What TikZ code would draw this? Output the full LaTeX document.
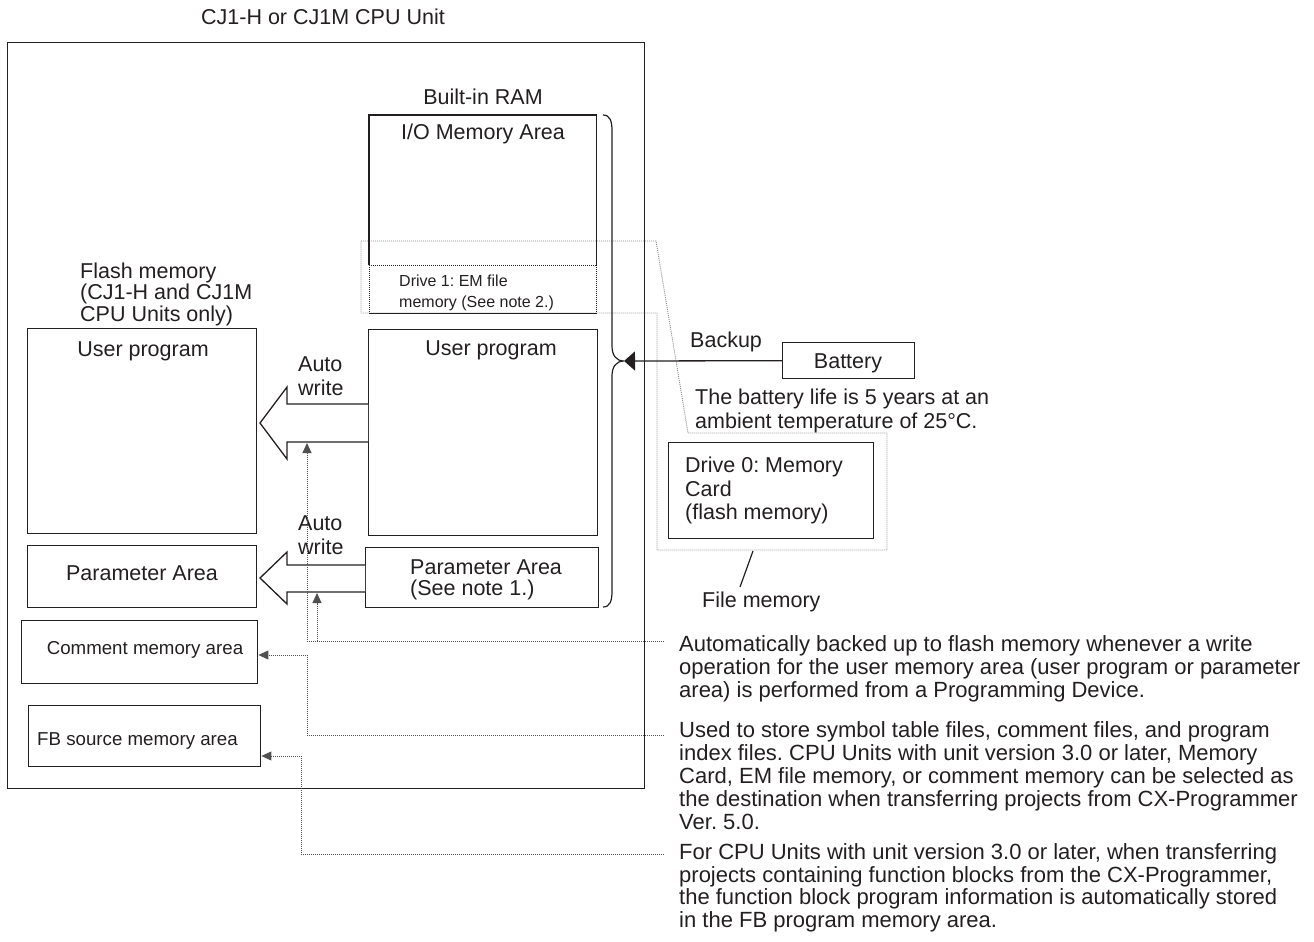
\documentclass[tikz,border=0pt]{standalone}
\usepackage{fontspec}
\setmainfont{Liberation Sans}
\usetikzlibrary{arrows.meta}
\definecolor{ink}{HTML}{231F20}
\definecolor{dotc}{HTML}{505050}
\definecolor{lgray}{HTML}{8C8C8C}
\begin{document}
\frenchspacing
\begin{tikzpicture}[x=1pt,y=-1pt,
  box/.style={draw=ink, line width=1.4pt, inner sep=0pt, anchor=north west},
  area/.style={inner sep=0pt, anchor=north west},
  big/.style={font=\fontsize{21.5}{23}\selectfont, text=ink, inner sep=0pt},
  note/.style={font=\fontsize{22}{23}\selectfont, text=ink, inner sep=0pt, anchor=base west, align=left},
  mid/.style={font=\fontsize{18.7}{20}\selectfont, text=ink, inner sep=0pt},
  small/.style={font=\fontsize{16}{21}\selectfont, text=ink, inner sep=0pt},
  solidl/.style={draw=ink, line width=1.4pt},
  dotk/.style={draw=ink, line width=1pt, dash pattern=on 1pt off 1pt},
  dots/.style={draw=dotc, line width=1pt, dash pattern=on 1pt off 1pt},
  fmem/.style={draw=lgray, line width=0.9pt, dash pattern=on 1pt off 1pt},
  tip/.style={-{Triangle[length=10pt,width=9pt]}},
  blockarrow/.style={draw=ink, line width=1.3pt, fill=white, line join=miter},
]
\useasboundingbox (0,0) rectangle (1314,942);

% titles
\node[big, anchor=base] (title) at (323,25) {CJ1-H or CJ1M CPU Unit};
\node[box, minimum width=637pt, minimum height=746pt] (cpu) at (7,42) {};
\node[big, anchor=base] (ramlbl) at (483,104) {Built-in RAM};

% file memory outline (gray dotted)
\draw[fmem] (361,241) -- (656,241) -- (688,433) -- (887,433) -- (887,550) -- (657,550) -- (657,313) -- (361,313) -- cycle;

% built-in RAM boxes
\node[area, minimum width=227pt, minimum height=150pt] (io) at (369,115) {};
\draw[solidl] (io.south west) -- (io.north west) -- (io.north east) -- (io.south east);
\node[big, anchor=base] (iolbl) at (483,139) {I/O Memory Area};
\node[area, minimum width=227pt, minimum height=48pt] (em) at (369,265) {};
\draw[dotk] (em.north west) -- (em.north east);
\draw[dotk] (em.north west) -- (em.south west);
\draw[dotk] (em.north east) -- (em.south east);
\draw[solidl] (em.south west) -- (em.south east);
\node[small, anchor=base west, align=left] (emlbl) at (399,307) {Drive 1: EM file\\memory (See note 2.)};

\node[box, minimum width=229pt, minimum height=206pt] (ramup) at (368,329) {};
\node[big, anchor=base] (ramuplbl) at (491,355) {User program};
\node[box, minimum width=233pt, minimum height=60pt] (rampa) at (365,547) {};
\node[big, anchor=base west, align=left, font=\fontsize{21.5}{21}\selectfont] (rampalbl) at (410,595) {Parameter Area\\(See note 1.)};

% flash memory
\node[big, anchor=base west, align=left, font=\fontsize{21.5}{21.5}\selectfont] (flashlbl) at (80,321) {Flash memory\\(CJ1-H and CJ1M\\CPU Units only)};
\node[box, minimum width=229pt, minimum height=205pt] (flup) at (27,328) {};
\node[big, anchor=base] (fluplbl) at (143,356) {User program};
\node[box, minimum width=229pt, minimum height=62pt] (flpa) at (27,545) {};
\node[big, anchor=base] (flpalbl) at (142,580) {Parameter Area};
\node[box, minimum width=236pt, minimum height=63pt] (cmt) at (21,620) {};
\node[mid, anchor=base] (cmtlbl) at (145,654) {Comment memory area};
\node[box, minimum width=232pt, minimum height=61pt] (fb) at (28,705) {};
\node[mid, anchor=base west] (fblbl) at (37,745) {FB source memory area};

% block arrows (auto write)
\draw[blockarrow] (ramup.west |- 0,404) -- (287,404) -- (287,387) -- (260,423) -- (287,459) -- (287,442) -- (ramup.west |- 0,442);
\draw[blockarrow] (rampa.west |- 0,565) -- (287,565) -- (287,552) -- (260,578) -- (287,604) -- (287,592) -- (rampa.west |- 0,592);
\node[big, anchor=base west, align=left, font=\fontsize{21.5}{24}\selectfont] (aw1) at (298,395) {Auto\\write};
\node[big, anchor=base west, align=left, font=\fontsize{21.5}{24}\selectfont] (aw2) at (298,554) {Auto\\write};

% brace
\coordinate (bracetip) at (624,361);
\draw[draw=ink, line width=1.2pt] (603,115) .. controls (610,115) and (612,121) .. (612,131) -- (612,346) .. controls (612,355) and (616,361) .. (bracetip) .. controls (616,361) and (612,367) .. (612,376) -- (612,591) .. controls (612,601) and (610,607) .. (603,607);

% battery
\node[box, minimum width=132pt, minimum height=36pt] (bat) at (782,342) {};
\node[big, anchor=base] (batlbl) at (848,368) {Battery};
\draw[draw=ink, line width=1.3pt, -{Triangle[length=11pt,width=19pt]}] (bat.west) -- (bracetip);
\node[big, anchor=base west] (backup) at (690,347) {Backup};
\node[big, anchor=base west, align=left, font=\fontsize{21.5}{24}\selectfont] (life) at (695,428) {The battery life is 5 years at an\\ambient temperature of 25°C.};

% memory card
\node[box, minimum width=205pt, minimum height=96pt] (card) at (668,442) {};
\node[big, anchor=base west, align=left, font=\fontsize{21.5}{23.3}\selectfont] (cardlbl) at (685,519.5) {Drive 0: Memory\\Card\\(flash memory)};
\node[big, anchor=base west] (fmlbl) at (702,607) {File memory};
\coordinate (slashtop) at (753,551);
\coordinate (slashbot) at (740,587);
\draw[draw=ink, line width=1.2pt] (slashtop) -- (slashbot);

% notes
\node[note] (note1) at (679,697) {Automatically backed up to flash memory whenever a write\\operation for the user memory area (user program or parameter\\area) is performed from a Programming Device.};
\node[note] (note2) at (679,829) {Used to store symbol table files, comment files, and program\\index files. CPU Units with unit version 3.0 or later, Memory\\Card, EM file memory, or comment memory can be selected as\\the destination when transferring projects from CX-Programmer\\Ver. 5.0.};
\node[note, font=\fontsize{22}{22.5}\selectfont] (note3) at (679,927) {For CPU Units with unit version 3.0 or later, when transferring\\projects containing function blocks from the CX-Programmer,\\the function block program information is automatically stored\\in the FB program memory area.};

% dotted leader lines
\coordinate (n1) at (664,641);
\coordinate (n2) at (664,735);
\coordinate (n3) at (664,854);
\draw[dots, tip] (n1) -- (307,641) -- (307,443);
\draw[dots, tip] (317,641) -- (317,593);
\draw[dots, tip] (n2) -- (307,735) -- (307,655) -- (cmt.east |- 0,655);
\draw[dots, tip] (n3) -- (301,854) -- (301,756) -- (fb.east |- 0,756);
\end{tikzpicture}
\end{document}
